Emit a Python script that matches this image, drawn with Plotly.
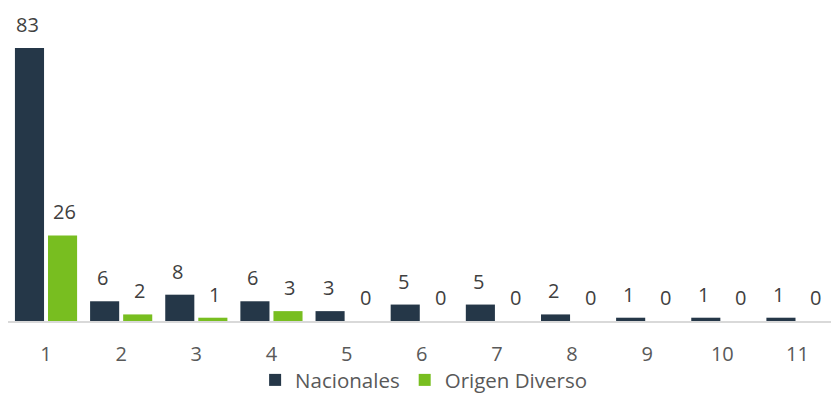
import plotly.graph_objects as go

categories = [1, 2, 3, 4, 5, 6, 7, 8, 9, 10, 11]
tick_labels = ["1", "2", "3", "4", "5", "6", "7", "8", "9", "10", "11"]
nacionales = [83, 6, 8, 6, 3, 5, 5, 2, 1, 1, 1]
origen_diverso = [26, 2, 1, 3, 0, 0, 0, 0, 0, 0, 0]

NAVY = "#253748"
GREEN = "#78BE20"
FONT = "Open Sans"

fig = go.Figure()
fig.add_trace(go.Bar(x=categories, y=nacionales, name="Nacionales",
                     marker=dict(color=NAVY, line=dict(width=0))))
fig.add_trace(go.Bar(x=categories, y=origen_diverso, name="Origen Diverso",
                     marker=dict(color=GREEN, line=dict(width=0))))

# value labels above each bar
annotations = []
for series, shift in ((nacionales, -18.5), (origen_diverso, 18.5)):
    for c, v in zip(categories, series):
        annotations.append(dict(
            x=c, y=v, xref="x", yref="y", text=str(v), showarrow=False,
            xshift=shift, yshift=8, yanchor="bottom",
            font=dict(family=FONT, size=20, color="#404040"),
        ))

fig.update_layout(
    width=831, height=416,
    margin=dict(l=8, r=0, t=0, b=95),
    paper_bgcolor="white", plot_bgcolor="white",
    barmode="group", bargap=0.12, bargroupgap=0.12,
    annotations=annotations,
    showlegend=True,
    legend=dict(orientation="h", x=0.505, xanchor="center", y=-0.184, yanchor="middle",
                bgcolor="rgba(0,0,0,0)",
                font=dict(family=FONT, size=20.5, color="#595959"),
                itemwidth=30, tracegroupgap=0),
    xaxis=dict(range=[0.494, 11.446], tickvals=categories, ticktext=tick_labels,
               showline=True, linecolor="#d9d9d9", linewidth=2,
               showgrid=False, zeroline=False, ticks="",
               ticklabelstandoff=14,
               tickfont=dict(family=FONT, size=20, color="#595959")),
    yaxis=dict(range=[0, 97.6], visible=False, showgrid=False, zeroline=False),
)

fig.write_html("out.html")
